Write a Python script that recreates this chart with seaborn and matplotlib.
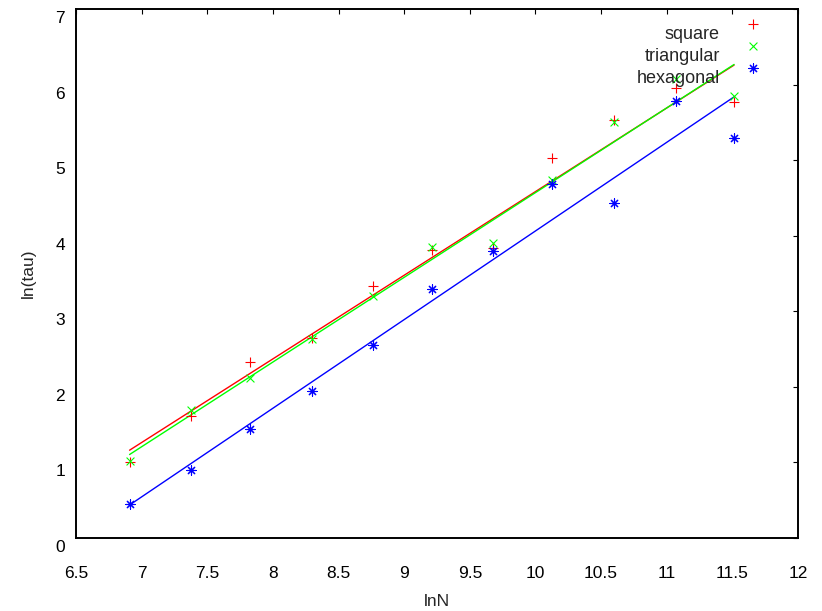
import numpy as np
import pandas as pd
import matplotlib
matplotlib.use("Agg")
import matplotlib.pyplot as plt
from matplotlib.transforms import ScaledTranslation
import seaborn as sns

# Relaxation time vs. system size for three lattice types
lnN = [6.908, 7.378, 7.824, 8.294, 8.764, 9.210, 9.680, 10.127, 10.597, 11.067, 11.513]
square = [1.01, 1.61, 2.33, 2.64, 3.33, 3.81, 3.84, 5.03, 5.53, 5.96, 5.77]
triangular = [1.02, 1.69, 2.12, 2.63, 3.20, 3.85, 3.90, 4.74, 5.51, 6.08, 5.85]
hexagonal = [0.45, 0.90, 1.44, 1.94, 2.55, 3.29, 3.80, 4.69, 4.43, 5.78, 5.29]

series_names = ["square", "triangular", "hexagonal"]
series_values = [square, triangular, hexagonal]
colors = ["#ff0000", "#00ff00", "#0000ff"]
markers = ["+", "x", (8, 2, 0)]
marker_sizes = [50, 32, 44]

xticks = [6.5, 7, 7.5, 8, 8.5, 9, 9.5, 10, 10.5, 11, 11.5, 12]
yticks = [0, 1, 2, 3, 4, 5, 6, 7]

sns.set_style("white")
plt.rcParams["font.family"] = ["Liberation Sans", "DejaVu Sans"]
plt.rcParams["font.size"] = 12

fig = plt.figure(figsize=(8.22, 6.11), dpi=100)
ax = fig.add_axes([76 / 822, 73 / 611, 722 / 822, 529 / 611])

frames = []
for name, vals in zip(series_names, series_values):
    frames.append(pd.DataFrame({"lnN": lnN, "ln_tau": vals, "lattice": name}))
df = pd.concat(frames, ignore_index=True)

for name, c, m, s in zip(series_names, colors, markers, marker_sizes):
    sub = df[df["lattice"] == name]
    # least-squares fit across the data range
    sns.regplot(data=sub, x="lnN", y="ln_tau", ax=ax, scatter=False, ci=None,
                color=c, line_kws={"lw": 1.0})
    sns.scatterplot(data=sub, x="lnN", y="ln_tau", ax=ax, marker=m, color=c,
                    s=s, linewidth=0.8, label=name, zorder=3)

ax.set_xlim(6.5, 12)
ax.set_ylim(0, 7)
ax.set_xticks(xticks)
ax.set_yticks(yticks)
ax.set_xticklabels([f"{t:g}" for t in xticks])
ax.set_yticklabels([f"{t:g}" for t in yticks])
ax.set_xlabel("lnN", fontsize=12.5)
ax.set_ylabel("ln(tau)", fontsize=12.5)
ax.xaxis.set_label_coords(0.5, -0.106)
ax.yaxis.set_label_coords(-0.055, 0.5)

for sp in ax.spines.values():
    sp.set_visible(True)
    sp.set_color("black")
    sp.set_linewidth(1.4)

ax.tick_params(axis="both", which="major", direction="in", length=3.4, width=0.8,
               colors="black", labelsize=12.5, top=True, right=True)
ax.tick_params(axis="x", pad=20.5)
ax.tick_params(axis="y", pad=8)
shift = ScaledTranslation(0, -8 / 100, fig.dpi_scale_trans)
for lab in ax.get_yticklabels():
    lab.set_transform(lab.get_transform() + shift)

leg = ax.legend(loc="upper right", bbox_to_anchor=(0.9725, 0.998), frameon=False,
                markerfirst=False, handlelength=1.0, handletextpad=1.33,
                labelspacing=0.28, borderpad=0.4, fontsize=13,
                scatteryoffsets=[1.2])

fig.savefig("out.png", dpi=100)
